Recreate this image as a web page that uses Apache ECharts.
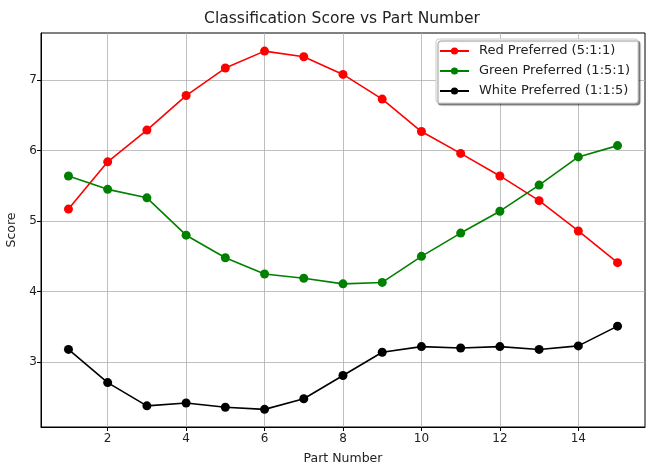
<!DOCTYPE html>
<html><head><meta charset="utf-8">
<script src="https://cdn.jsdelivr.net/npm/echarts@6/dist/echarts.min.js"></script>
<style>html,body{margin:0;padding:0;background:#fff}#c{width:648px;height:471px}</style>
</head><body><div id="c"></div>
<script>
const partNumbers = [1,2,3,4,5,6,7,8,9,10,11,12,13,14,15];
const redScores = [5.17,5.84,6.29,6.78,7.17,7.41,7.33,7.08,6.73,6.27,5.96,5.64,5.29,4.86,4.41];
const greenScores = [5.64,5.45,5.33,4.80,4.48,4.25,4.19,4.11,4.13,4.50,4.83,5.14,5.51,5.91,6.07];
const whiteScores = [3.18,2.71,2.38,2.42,2.36,2.33,2.48,2.81,3.14,3.22,3.20,3.22,3.18,3.23,3.51];
const xTicks = [2,4,6,8,10,12,14];
const yTicks = [3,4,5,6,7];
const seriesNames = ['Red Preferred (5:1:1)','Green Preferred (1:5:1)','White Preferred (1:1:5)'];
const seriesColors = ['#ff0000','#008000','#000000'];
const seriesData = [redScores, greenScores, whiteScores];

const font = 'DejaVu Sans';
const chart = echarts.init(document.getElementById('c'), null, {renderer:'canvas'});
chart.setOption({
  animation:false,
  title:{text:'Classification Score vs Part Number', left:337, top:6, textAlign:'center',
    textStyle:{fontFamily:font,fontSize:15.5,fontWeight:'normal',color:'#222'}},
  legend:{right:10, top:39, orient:'vertical', itemWidth:29, itemHeight:9, itemGap:6,
    padding:[5,8,5,3], borderColor:'#cccccc', borderWidth:1, borderRadius:3,
    backgroundColor:'#fff', shadowColor:'rgba(0,0,0,0.45)', shadowOffsetX:2, shadowOffsetY:2, shadowBlur:1,
    textStyle:{fontFamily:font,fontSize:13,color:'#222',lineHeight:14,padding:[0,0,0,5]}, data:seriesNames},
  grid:{left:41, right:3, top:33, bottom:44, show:true, borderColor:'#000', borderWidth:1, outerBoundsMode:'none', containLabel:false},
  xAxis:{type:'value', min:0.3, max:15.7, name:'Part Number', nameLocation:'middle', nameGap:25,
    nameTextStyle:{fontFamily:font,fontSize:12.5,color:'#222'},
    axisLine:{show:true,lineStyle:{color:'#000'}},
    axisTick:{show:true,length:4,customValues:xTicks,lineStyle:{color:'#000'}},
    axisLabel:{customValues:xTicks,fontFamily:font,fontSize:12,color:'#222',margin:6},
    splitLine:{show:true,lineStyle:{color:'#b0b0b0',width:0.8}}},
  yAxis:{type:'value', min:2.08, max:7.667, name:'Score', nameLocation:'middle', nameGap:23,
    nameTextStyle:{fontFamily:font,fontSize:12.5,color:'#222'},
    axisLine:{show:true,lineStyle:{color:'#000'}},
    axisTick:{show:true,length:4,customValues:yTicks,lineStyle:{color:'#000'}},
    axisLabel:{customValues:yTicks,fontFamily:font,fontSize:12,color:'#222',margin:4},
    splitLine:{show:true,lineStyle:{color:'#b0b0b0',width:0.8}}},
  series: seriesNames.map((n,i)=>({
    name:n, type:'line', data:partNumbers.map((x,j)=>[x,seriesData[i][j]]),
    symbol:'circle', symbolSize:9, color:seriesColors[i],
    lineStyle:{width:1.6,color:seriesColors[i]}, itemStyle:{color:seriesColors[i]}
  }))
});
</script></body></html>
